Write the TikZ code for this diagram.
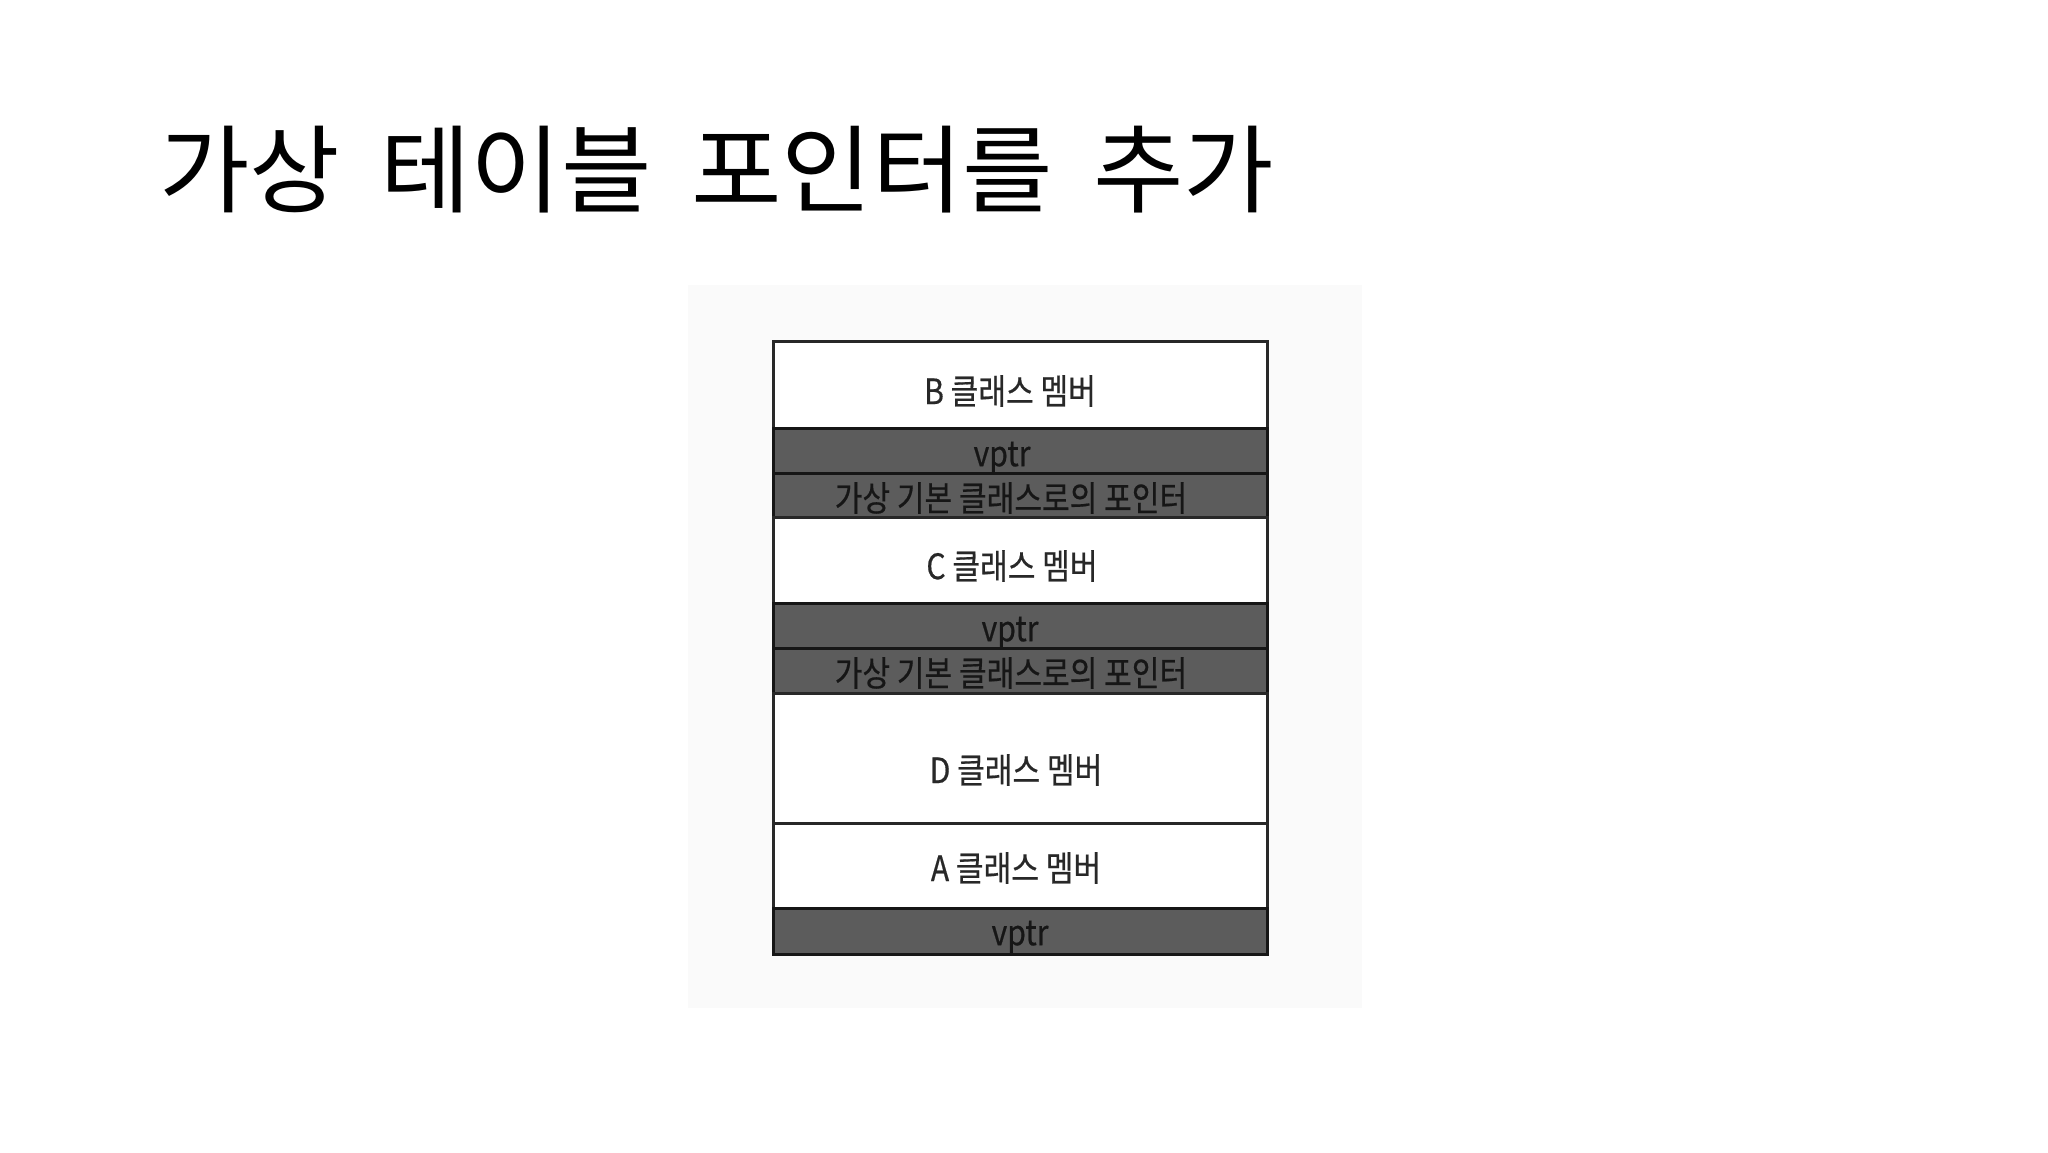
\documentclass[tikz,border=0pt]{standalone}
\usepackage{fontspec}
\newfontfamily\krtitle[FakeStretch=1.025, WordSpace=1.8]{Noto Sans CJK KR}
\newfontfamily\krbox[FakeStretch=0.86, FakeBold=0.5]{Noto Sans CJK KR}
\definecolor{paper}{RGB}{250,250,250}
\definecolor{bandgray}{RGB}{92,92,92}
\definecolor{ink}{RGB}{40,40,40}
\definecolor{bandink}{RGB}{22,22,22}
\tikzset{
  lightband/.style={fill=white, draw=ink, line width=1.5pt},
  darkband/.style={fill=bandgray, draw=bandink, line width=1.5pt},
  boxtext/.style={font=\krbox\fontsize{17.5}{20}\selectfont, text=ink, inner sep=0pt},
  darktext/.style={font=\krbox\fontsize{17.5}{20}\selectfont, text=bandink, inner sep=0pt},
  titletext/.style={font=\krtitle\fontsize{48}{56}\selectfont, text=black, inner sep=0pt, anchor=west}
}
\begin{document}
\begin{tikzpicture}[x=0.5pt,y=-0.5pt]
\useasboundingbox (0,0) rectangle (2048,1152);
\fill[white] (0,0) rectangle (2048,1152);
\fill[paper] (688,285) rectangle (1362,1008);
% title
\node[titletext] (title) at (159,170) {가상 테이블 포인터를 추가};
% bands
\draw[lightband] (773,341) rectangle (1267,428);
\draw[darkband] (773,428) rectangle (1267,473);
\draw[darkband] (773,473) rectangle (1267,517);
\draw[lightband] (773,517) rectangle (1267,603);
\draw[darkband] (773,603) rectangle (1267,648);
\draw[darkband] (773,648) rectangle (1267,693);
\draw[lightband] (773,693) rectangle (1267,823);
\draw[lightband] (773,823) rectangle (1267,908);
\draw[darkband] (773,908) rectangle (1267,954);
% labels
\node[boxtext] (bmem) at (1010,391) {B 클래스 멤버};
\node[darktext] (vptr1) at (1002,458) {vptr};
\node[darktext] (vb1) at (1011,498) {가상 기본 클래스로의 포인터};
\node[boxtext] (cmem) at (1012,566) {C 클래스 멤버};
\node[darktext] (vptr2) at (1010,633) {vptr};
\node[darktext] (vb2) at (1011,673) {가상 기본 클래스로의 포인터};
\node[boxtext] (dmem) at (1016,770) {D 클래스 멤버};
\node[boxtext] (amem) at (1016,868) {A 클래스 멤버};
\node[darktext] (vptr3) at (1020,937) {vptr};
\end{tikzpicture}
\end{document}
